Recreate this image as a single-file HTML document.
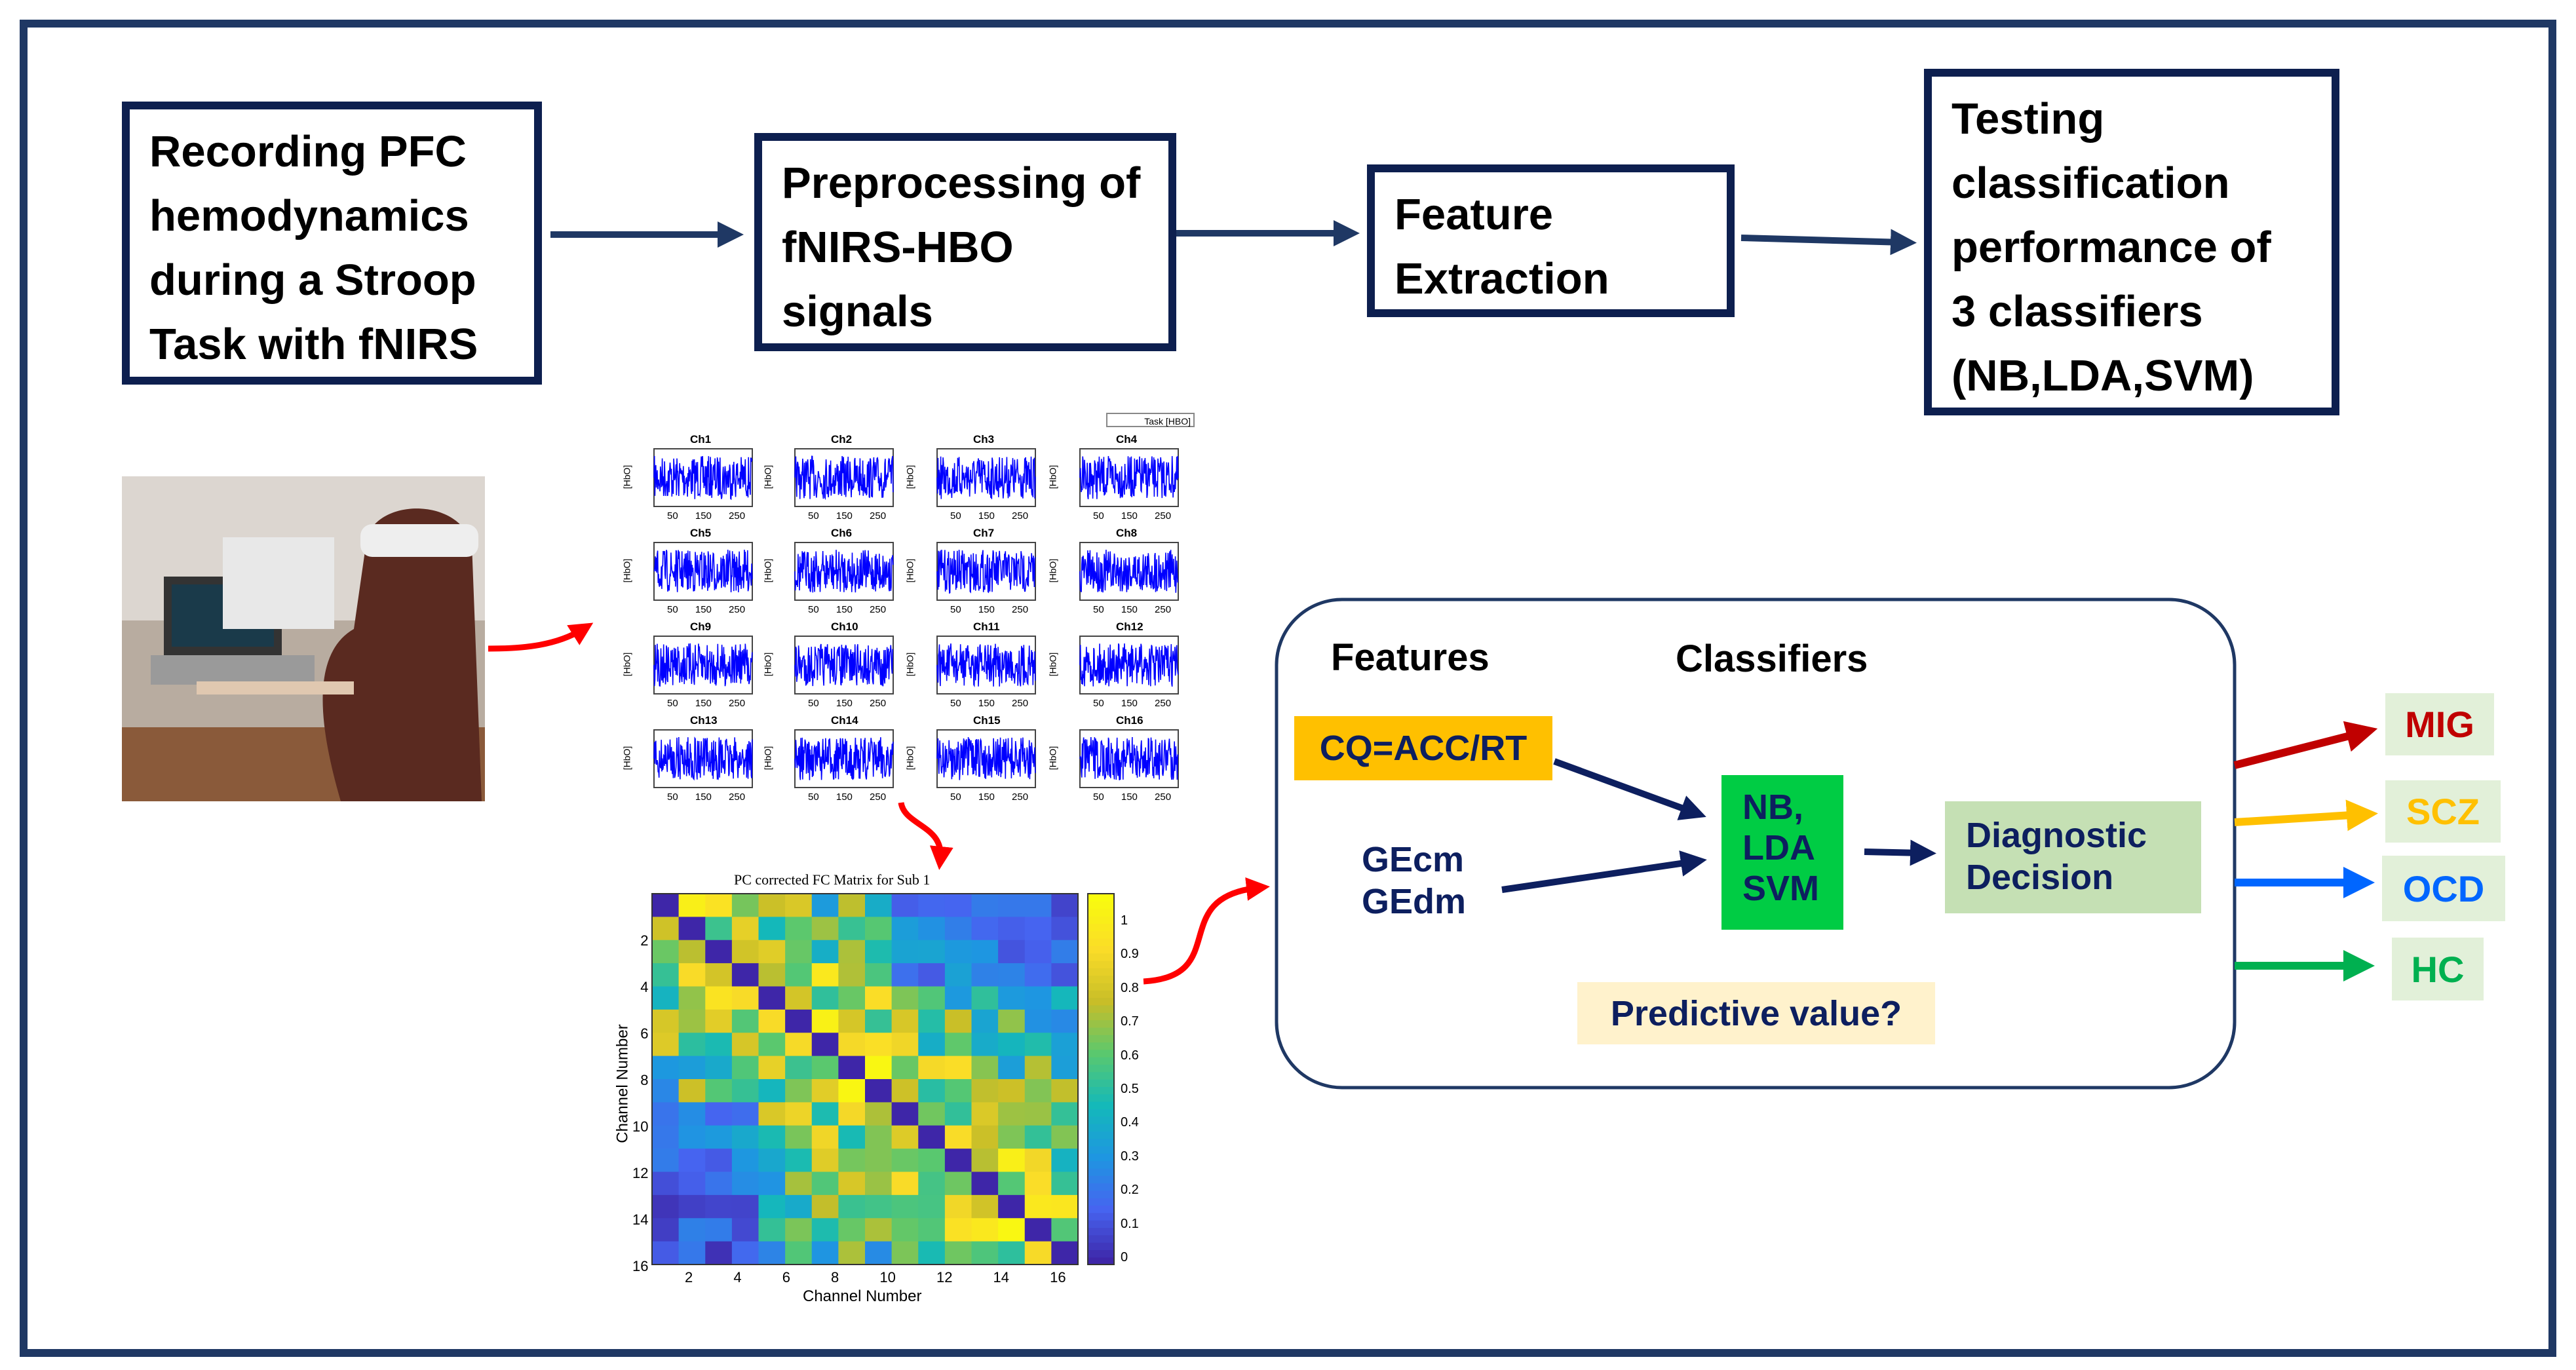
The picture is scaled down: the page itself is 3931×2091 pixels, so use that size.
<!DOCTYPE html>
<html><head><meta charset="utf-8"><style>
body{margin:0;width:3931px;height:2091px;background:#fff;position:relative;overflow:hidden;font-family:"Liberation Sans",sans-serif}
.b{position:absolute;box-sizing:border-box;border:12px solid #0d1f4f;background:#fff;font-weight:bold;font-size:67px;line-height:98px;color:#000;padding:16px 20px 0 30px}
.t{position:absolute;font-weight:bold;white-space:nowrap}
.o{position:absolute;background:#e2f0d9;font-weight:bold;font-size:56px;display:flex;align-items:center;justify-content:center}
</style></head><body>
<div style="position:absolute;left:30px;top:30px;width:3871px;height:2041px;box-sizing:border-box;border:12px solid #1f3864"></div>
<div class="b" style="left:186px;top:155px;width:641px;height:432px">Recording PFC hemodynamics during a Stroop Task with fNIRS</div>
<div class="b" style="left:1151px;top:203px;width:644px;height:333px">Preprocessing of fNIRS-HBO signals</div>
<div class="b" style="left:2086px;top:251px;width:561px;height:233px">Feature Extraction</div>
<div class="b" style="left:2936px;top:105px;width:634px;height:529px;padding-right:40px">Testing classification performance of 3 classifiers (NB,LDA,SVM)</div>
<svg style="position:absolute;left:0;top:0" width="3931" height="2091">
<defs>
<marker id="an" markerWidth="4" markerHeight="4" refX="2" refY="2" orient="auto" markerUnits="strokeWidth"><path d="M0,0L4,2L0,4Z" fill="#1f3864"/></marker>
<marker id="ar" markerWidth="4" markerHeight="4" refX="2" refY="2" orient="auto" markerUnits="strokeWidth"><path d="M0,0L4,2L0,4Z" fill="red"/></marker>
<marker id="ad" markerWidth="4" markerHeight="4" refX="2" refY="2" orient="auto" markerUnits="strokeWidth"><path d="M0,0L4,2L0,4Z" fill="#0d1f5f"/></marker>
<marker id="m1" markerWidth="4" markerHeight="4" refX="2" refY="2" orient="auto" markerUnits="strokeWidth"><path d="M0,0L4,2L0,4Z" fill="#c00000"/></marker>
<marker id="m2" markerWidth="4" markerHeight="4" refX="2" refY="2" orient="auto" markerUnits="strokeWidth"><path d="M0,0L4,2L0,4Z" fill="#ffc000"/></marker>
<marker id="m3" markerWidth="4" markerHeight="4" refX="2" refY="2" orient="auto" markerUnits="strokeWidth"><path d="M0,0L4,2L0,4Z" fill="#0066ff"/></marker>
<marker id="m4" markerWidth="4" markerHeight="4" refX="2" refY="2" orient="auto" markerUnits="strokeWidth"><path d="M0,0L4,2L0,4Z" fill="#00b050"/></marker>
</defs>
<g stroke="#1f3864" stroke-width="10" fill="none">
<line x1="840" y1="358" x2="1115" y2="358" marker-end="url(#an)"/>
<line x1="1795" y1="356" x2="2055" y2="356" marker-end="url(#an)"/>
<line x1="2657" y1="363" x2="2905" y2="370" marker-end="url(#an)"/>
</g>
<g stroke="red" stroke-width="9" fill="none">
<path d="M745,990 C800,990 850,985 890,960" marker-end="url(#ar)"/>
<path d="M1375,1225 C1380,1260 1440,1260 1435,1310" marker-end="url(#ar)"/>
<path d="M1745,1498 C1880,1490 1780,1370 1920,1355" marker-end="url(#ar)"/>
</g>
<rect x="1948" y="915" width="1462" height="745" rx="100" fill="none" stroke="#1f3864" stroke-width="5"/>
<g stroke="#0d1f5f" stroke-width="10" fill="none">
<line x1="2372" y1="1162" x2="2585" y2="1240" marker-end="url(#ad)"/>
<line x1="2292" y1="1358" x2="2585" y2="1315" marker-end="url(#ad)"/>
<line x1="2845" y1="1300" x2="2935" y2="1302" marker-end="url(#ad)"/>
</g>
<line x1="3410" y1="1168" x2="3605" y2="1118" stroke="#c00000" stroke-width="12" marker-end="url(#m1)"/>
<line x1="3410" y1="1255" x2="3605" y2="1243" stroke="#ffc000" stroke-width="12" marker-end="url(#m2)"/>
<line x1="3410" y1="1347" x2="3600" y2="1347" stroke="#0066ff" stroke-width="12" marker-end="url(#m3)"/>
<line x1="3410" y1="1474" x2="3600" y2="1474" stroke="#00b050" stroke-width="12" marker-end="url(#m4)"/>
<!-- photo -->
<rect x="186" y="727" width="554" height="496" fill="#b8aca0"/>
<rect x="186" y="727" width="554" height="220" fill="#dcd6d0"/>
<rect x="186" y="1110" width="554" height="113" fill="#8a5a3a"/>
<rect x="250" y="880" width="180" height="120" fill="#333"/><rect x="262" y="892" width="156" height="95" fill="#1a3a4a"/>
<rect x="230" y="1000" width="250" height="45" fill="#9a9a9a"/>
<rect x="340" y="820" width="170" height="140" fill="#e8e8e8"/>
<path d="M560,820 C580,760 700,760 720,830 L735,1223 L520,1223 C490,1120 470,1000 540,960 Z" fill="#5a2a20"/>
<rect x="550" y="800" width="180" height="50" fill="#eee" rx="18"/>
<rect x="300" y="1040" width="240" height="20" fill="#e0c8b0"/>
<g id="plots"></g>
<g id="mat"></g>
</svg>
<div class="t" style="left:2031px;top:970px;font-size:58px">Features</div>
<div class="t" style="left:2557px;top:972px;font-size:58px">Classifiers</div>
<div class="t" style="left:1975px;top:1093px;width:394px;height:98px;background:#ffc000;font-size:54px;color:#0d1f5f;display:flex;align-items:center;justify-content:center">CQ=ACC/RT</div>
<div class="t" style="left:2078px;top:1280px;font-size:54px;color:#0d1f5f;line-height:64px">GEcm<br>GEdm</div>
<div class="t" style="left:2627px;top:1183px;width:186px;height:236px;background:#00cc44;font-size:54px;color:#0d1f5f;line-height:62px;padding:18px 0 0 32px;box-sizing:border-box">NB,<br>LDA<br>SVM</div>
<div class="t" style="left:2968px;top:1223px;width:391px;height:171px;background:#c5e0b4;font-size:54px;color:#0d1f5f;line-height:64px;padding:20px 0 0 32px;box-sizing:border-box">Diagnostic<br>Decision</div>
<div class="t" style="left:2407px;top:1499px;width:546px;height:95px;background:#fff2cc;font-size:54px;color:#0d1f5f;display:flex;align-items:center;justify-content:center">Predictive value?</div>
<div class="o" style="left:3640px;top:1058px;width:166px;height:95px;color:#c00000">MIG</div>
<div class="o" style="left:3640px;top:1191px;width:176px;height:95px;color:#ffc000">SCZ</div>
<div class="o" style="left:3635px;top:1306px;width:188px;height:100px;color:#0066ff">OCD</div>
<div class="o" style="left:3650px;top:1431px;width:140px;height:96px;color:#00b050">HC</div>
<div style="position:absolute;left:1688px;top:630px;width:135px;height:22px;border:2px solid #888;font-size:14px;line-height:22px;text-align:right;padding-right:4px;box-sizing:border-box">Task [HBO]</div>
<div id="lbl"></div>
<div style="position:absolute;left:1120px;top:1330px;font-size:22px;font-family:'Liberation Serif',serif">PC corrected FC Matrix for Sub 1</div>
<div style="position:absolute;left:1225px;top:1965px;font-size:24px">Channel Number</div>
<div style="position:absolute;left:860px;top:1640px;font-size:24px;transform:rotate(-90deg);transform-origin:center">Channel Number</div>
<script>
var P=document.getElementById('plots'),seed=7;
function r(){seed=(seed*16807)%2147483647;return seed/2147483647;}
var cx=[998,1213,1430,1648],cy=[685,828,971,1114],w=150,h=88,s='',L='';
for(var j=0;j<4;j++)for(var i=0;i<4;i++){var x=cx[i],y=cy[j],d='M'+x+','+(y+h/2);
for(var k=0.7;k<=w;k+=0.7)d+=' L'+(x+k).toFixed(1)+','+(y+h/2+(r()-0.5)*h*0.75).toFixed(1);
s+='<rect x="'+x+'" y="'+y+'" width="'+w+'" height="'+h+'" fill="#fff" stroke="#444" stroke-width="2"/><path d="'+d+'" stroke="#0000ff" stroke-width="1.6" fill="none"/>';
L+='<div style="position:absolute;left:'+(x+55)+'px;top:'+(y-24)+'px;font-size:17px;font-weight:bold">Ch'+(j*4+i+1)+'</div><div style="position:absolute;left:'+(x+20)+'px;top:'+(y+h+6)+'px;font-size:15px;word-spacing:22px">50 150 250</div><div style="position:absolute;left:'+(x-60)+'px;top:'+(y+35)+'px;font-size:14px;transform:rotate(-90deg)">[HbO]</div>';}
P.innerHTML=s;document.getElementById('lbl').innerHTML=L;
function par(v){var c=[[62,38,168],[70,100,240],[30,150,225],[20,185,185],[90,200,110],[200,190,40],[250,220,40],[249,251,14]];
var f=v*7,a=Math.floor(f),b=Math.min(7,a+1),t=f-a;return 'rgb('+c[a].map(function(q,n){return Math.round(q+(c[b][n]-q)*t)}).join(',')+')';}
var M='',X=995,Y=1364,cs=650/16,ch=566/16;
for(var a=0;a<16;a++)for(var b=0;b<16;b++){var v=(a==b)?0:Math.max(0.05,Math.min(0.98,0.8-Math.abs(a-b)*0.045+(r()-0.5)*0.5));
if((a<4&&b>8)||(b<4&&a>8))v*=0.5;M+='<rect x="'+(X+b*cs)+'" y="'+(Y+a*ch)+'" width="'+(cs+0.5)+'" height="'+(ch+0.5)+'" fill="'+par(v)+'"/>';}
for(var q=0;q<50;q++)M+='<rect x="1660" y="'+(1930-(q+1)*11.32)+'" width="40" height="12" fill="'+par(q/49)+'"/>';
M+='<rect x="995" y="1364" width="650" height="566" fill="none" stroke="#333" stroke-width="2"/><rect x="1660" y="1364" width="40" height="566" fill="none" stroke="#333" stroke-width="2"/>';
document.getElementById('mat').innerHTML=M;
</script>
<div style="position:absolute;left:1710px;top:1380px;font-size:20px;line-height:51.4px">1<br>0.9<br>0.8<br>0.7<br>0.6<br>0.5<br>0.4<br>0.3<br>0.2<br>0.1<br>0</div>
<div style="position:absolute;left:1045px;top:1937px;font-size:22px;word-spacing:56px">2 4 6 8 10 12 14 16</div>
<div style="position:absolute;left:965px;top:1400px;font-size:22px;line-height:71px;text-align:right">2<br>4<br>6<br>8<br>10<br>12<br>14<br>16</div>
</body></html>
